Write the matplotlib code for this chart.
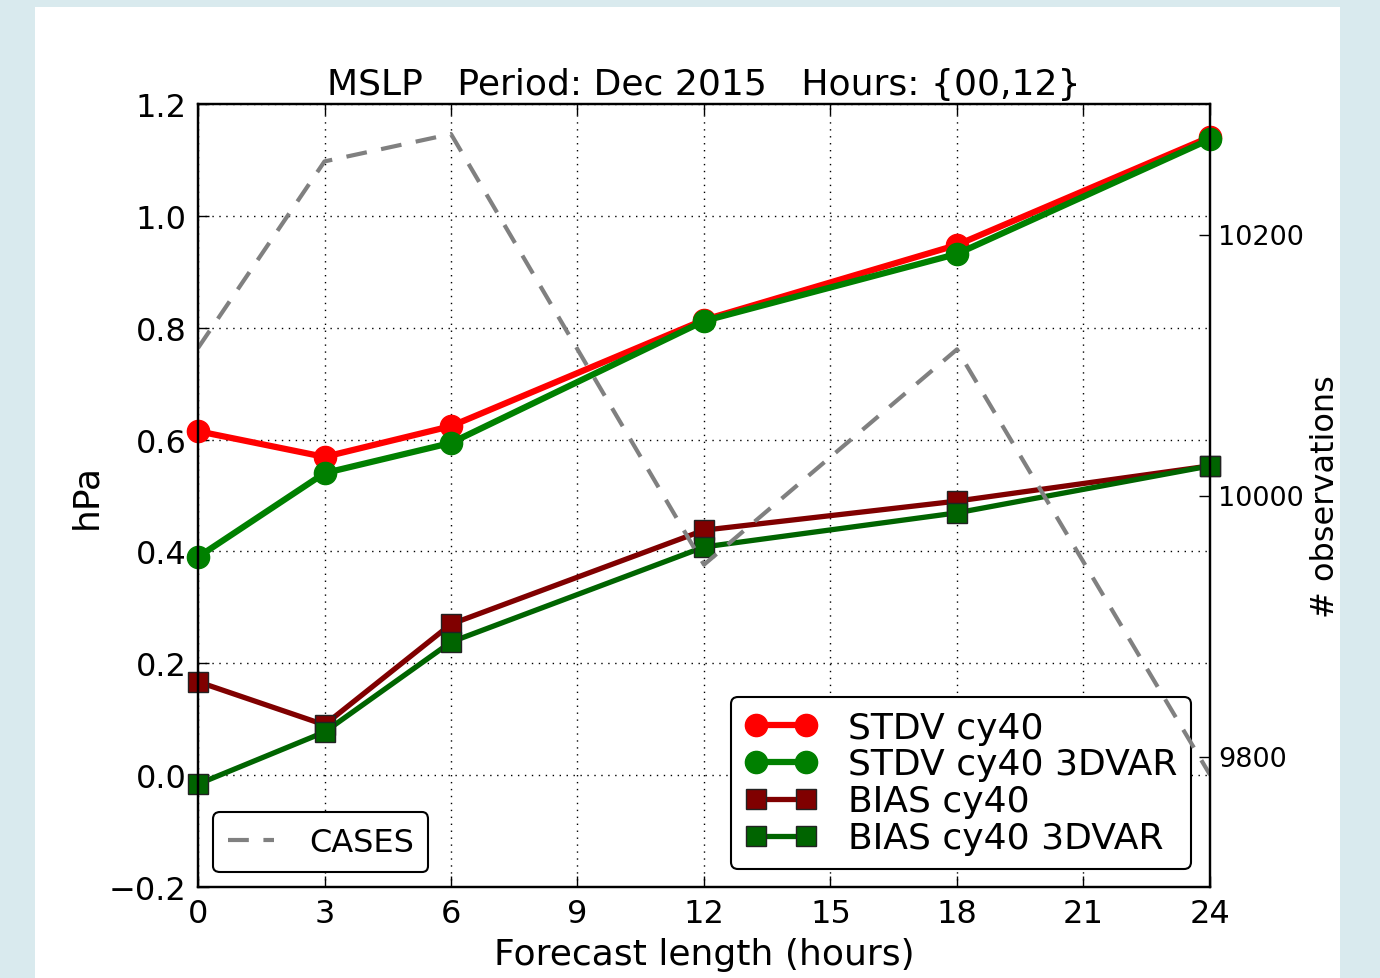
import matplotlib
matplotlib.use("Agg")
import matplotlib.pyplot as plt
from matplotlib.patches import Rectangle

# Forecast lead times (hours)
hours = [0, 3, 6, 12, 18, 24]

# Verification scores (hPa)
stdv_cy40 = [0.615, 0.569, 0.624, 0.814, 0.948, 1.141]
stdv_cy40_3dvar = [0.390, 0.540, 0.594, 0.812, 0.932, 1.137]
bias_cy40 = [0.167, 0.090, 0.270, 0.438, 0.490, 0.553]
bias_cy40_3dvar = [-0.016, 0.077, 0.238, 0.408, 0.469, 0.553]

# Number of observations used
cases = [10113, 10256, 10277, 9947, 10112, 9786]

xticks = [0, 3, 6, 9, 12, 15, 18, 21, 24]
yticks = [-0.2, 0.0, 0.2, 0.4, 0.6, 0.8, 1.0, 1.2]
cases_ticks = [9800, 10000, 10200]

plt.rcParams['font.family'] = ['DejaVu Sans']
FS = 26
TICK_FS = 23

fig = plt.figure(figsize=(13.8, 9.79), dpi=100)
fig.patch.set_facecolor('#d9eaee')
fig.add_artist(Rectangle((35 / 1380, 0), (1340 - 35) / 1380, (979 - 8) / 979,
                         transform=fig.transFigure, facecolor='white',
                         edgecolor='none', zorder=-10))

ax = fig.add_axes([198 / 1380, 1 - 888 / 979, (1210 - 198) / 1380, (888 - 105) / 979])
ax.set_facecolor('white')

l1, = ax.plot(hours, stdv_cy40, color='#ff0000', lw=4.5, marker='o', ms=16,
              mec='#ff0000', label='STDV cy40', clip_on=False)
l2, = ax.plot(hours, stdv_cy40_3dvar, color='#008000', lw=4.5, marker='o', ms=16,
              mec='#008000', label='STDV cy40 3DVAR', clip_on=False)
l3, = ax.plot(hours, bias_cy40, color='#800000', lw=3.8, marker='s', ms=14,
              mec='#222222', mew=1.0, label='BIAS cy40', clip_on=False)
l4, = ax.plot(hours, bias_cy40_3dvar, color='#006400', lw=3.8, marker='s', ms=14,
              mec='#222222', mew=1.0, label='BIAS cy40 3DVAR', clip_on=False)

ax.set_xlim(0, 24)
ax.set_ylim(-0.2, 1.2)
ax.set_xticks(xticks)
ax.set_yticks(yticks)
ax.set_yticklabels(['\u22120.2', '0.0', '0.2', '0.4', '0.6', '0.8', '1.0', '1.2'])
ax.grid(True, color='black', linestyle=(0, (1, 4)), linewidth=1.0)
ax.tick_params(axis='both', direction='in', length=8, width=1, labelsize=TICK_FS,
               top=True, right=False, pad=8)
for s in ax.spines.values():
    s.set_linewidth(1.6)

ax.set_title('MSLP   Period: Dec 2015   Hours: {00,12}', fontsize=FS, pad=7)
ax.set_xlabel('Forecast length (hours)', fontsize=FS, labelpad=6)
ax.set_ylabel('hPa', fontsize=FS, labelpad=4)

leg = ax.legend(handles=[l1, l2, l3, l4], loc='lower right', fontsize=FS,
                numpoints=2, handlelength=2.0, handletextpad=0.85,
                labelspacing=0.08, borderpad=0.38, borderaxespad=0,
                fancybox=True, bbox_to_anchor=(0.981, 0.023), framealpha=1)
leg.get_frame().set_edgecolor('black')
leg.get_frame().set_linewidth(1.5)

ax2 = ax.twinx()
l5, = ax2.plot(hours, cases, color='#808080', lw=3, linestyle=(0, (5, 3.5)),
               label='CASES')
ax2.set_ylim(9700, 10300)
ax2.set_yticks(cases_ticks)
ax2.tick_params(axis='y', direction='in', length=8, width=1, labelsize=19.5,
                left=False, right=True, pad=6)
ax2.set_ylabel('# observations', fontsize=23, labelpad=4)
for s in ax2.spines.values():
    s.set_linewidth(1.6)

leg2 = ax2.legend(handles=[l5], loc='lower left', fontsize=23,
                  handlelength=1.45, handletextpad=1.1, borderpad=0.45,
                  borderaxespad=0, fancybox=True,
                  bbox_to_anchor=(0.015, 0.019), framealpha=1)
leg2.get_frame().set_edgecolor('black')
leg2.get_frame().set_linewidth(1.5)

fig.savefig('out.png', dpi=100, facecolor=fig.get_facecolor())
